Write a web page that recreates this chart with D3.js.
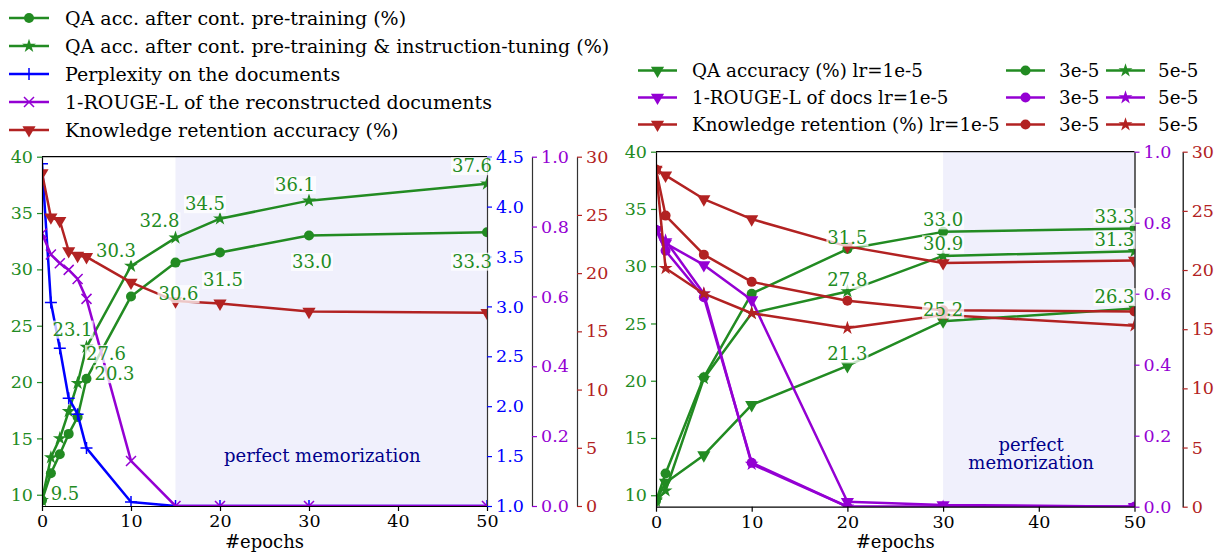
<!DOCTYPE html>
<html><head><meta charset="utf-8">
<script src="https://cdn.jsdelivr.net/npm/d3@7"></script>
<style>body{margin:0;background:#fff} svg{display:block} text{font-family:"DejaVu Serif",serif}</style>
</head><body><svg id="c" width="1217" height="553"></svg>
<script>
// ---------- data (left panel) ----------
const epochsL = [0,1,2,3,4,5,10,15,20,30,50];
const qaPre   = [9.5,11.9,13.6,15.4,16.9,20.3,27.6,30.6,31.5,33.0,33.3];
const qaInst  = [9.5,13.3,15.0,17.4,19.9,23.1,30.3,32.8,34.5,36.1,37.6];
const pplL    = [4.43,3.04,2.58,2.08,1.92,1.58,1.04,1.0,1.0,1.0,1.0];
const rougeL  = [0.78,0.72,0.695,0.676,0.65,0.593,0.129,0.0,0.0,0.0,0.0];
const retainL = [28.6,24.8,24.5,21.9,21.5,21.4,19.2,17.6,17.4,16.7,16.6];
// ---------- data (right panel) ----------
const epochsR = [0,1,5,10,20,30,50];
const qa1 = [9.5,11.1,13.5,17.9,21.3,25.2,26.3];
const qa3 = [9.5,11.9,20.3,27.6,31.5,33.0,33.3];
const qa5 = [9.5,10.4,20.2,25.9,27.8,30.9,31.3];
const rouge1 = [0.78,0.742,0.681,0.582,0.014,0.005,0.0];
const rouge3 = [0.78,0.721,0.59,0.124,0.0,0.0,0.0];
const rouge5 = [0.78,0.75,0.6,0.12,0.0,0.0,0.0];
const ret1 = [28.5,28.0,26.0,24.3,22.0,20.6,20.8];
const ret3 = [28.5,24.6,21.3,19.0,17.4,16.6,16.5];
const ret5 = [28.5,20.15,18.0,16.35,15.1,16.2,15.3];
// ---------- tick labels ----------
const xTicks = [0,10,20,30,40,50];
const qaTicks = [10,15,20,25,30,35,40];
const pplTicks = [1.0,1.5,2.0,2.5,3.0,3.5,4.0,4.5];
const rougeTicks = [0,0.2,0.4,0.6,0.8,1.0];
const retTicks = [0,5,10,15,20,25,30];
const legendLeft = ["QA acc. after cont. pre-training (%)","QA acc. after cont. pre-training & instruction-tuning (%)","Perplexity on the documents","1-ROUGE-L of the reconstructed documents","Knowledge retention accuracy (%)"];
const legendRight1 = ["QA accuracy (%) lr=1e-5","1-ROUGE-L of docs lr=1e-5","Knowledge retention (%) lr=1e-5"];
const legendRight2 = ["3e-5","3e-5","3e-5"];
const legendRight3 = ["5e-5","5e-5","5e-5"];

// ---------- label layout (pixel offsets) ----------
const labelsLeft = [
  {s:'pre',i:0,dx:23,dy:-7},{s:'inst',i:5,dx:-14,dy:-18},{s:'pre',i:5,dx:28,dy:-5},
  {s:'pre',i:6,dx:-25,dy:57},{s:'inst',i:6,dx:-15,dy:-15},{s:'inst',i:7,dx:-16,dy:-17},
  {s:'pre',i:7,dx:3,dy:31},{s:'inst',i:8,dx:-15,dy:-15},{s:'pre',i:8,dx:3,dy:27},
  {s:'inst',i:9,dx:-14,dy:-16},{s:'pre',i:9,dx:3,dy:26},{s:'inst',i:10,dx:-15,dy:-18},
  {s:'pre',i:10,dx:-15,dy:29}];
const labelsRight = [];
['a','b','c'].forEach(s=>{[4,5,6].forEach(i=>labelsRight.push({s,i,dx:i===6?-20:0,dy:-12}));});

const GREEN='#228b22', BLUE='#0000ff', PURPLE='#9400d3', RED='#b22222', NAVY='#00008b', SHADE='#f0f0fc';
const svg = d3.select('#c');

function marker(g, kind, x, y, color, scale=1){
  if(kind==='o') g.append('circle').attr('cx',x).attr('cy',y).attr('r',5*scale).attr('fill',color);
  else if(kind==='*') g.append('path').attr('d',d3.symbol(d3.symbolStar, 60*scale*scale)()).attr('transform',`translate(${x},${y})`).attr('fill',color);
  else if(kind==='v') g.append('path').attr('d',d3.symbol(d3.symbolTriangle, 75*scale*scale)()).attr('transform',`translate(${x},${y}) rotate(180)`).attr('fill',color);
  else if(kind==='+') g.append('path').attr('d',`M${x-6},${y}H${x+6}M${x},${y-6}V${y+6}`).attr('stroke',color).attr('stroke-width',1.5);
  else if(kind==='x') g.append('path').attr('d',`M${x-5},${y-5}L${x+5},${y+5}M${x-5},${y+5}L${x+5},${y-5}`).attr('stroke',color).attr('stroke-width',1.5);
}

function series(g, xs, ys, xS, yS, color, kind){
  const line = d3.line().x((d,i)=>xS(xs[i])).y(d=>yS(d));
  g.append('path').attr('d',line(ys)).attr('fill','none').attr('stroke',color).attr('stroke-width',2.5).attr('stroke-linejoin','round');
  ys.forEach((v,i)=>marker(g,kind,xS(xs[i]),yS(v),color));
}

function styleAxis(ax, color, spine){
  ax.selectAll('text').attr('fill',color).style('font-size','17.5px').style('font-family','"DejaVu Serif",serif');
  ax.selectAll('.tick line').attr('stroke',color).attr('stroke-width',1.2);
  ax.select('.domain').attr('stroke',spine).attr('stroke-width',1.2);
}

function labelBox(g, x, y, txt, anchor){
  const t = g.append('text').attr('x',x).attr('y',y).attr('text-anchor',anchor||'middle').attr('dominant-baseline','central')
    .attr('fill',GREEN).style('font-size','18px').text(txt);
  const b = t.node().getBBox();
  g.insert('rect','text:last-child').attr('x',b.x-1).attr('y',b.y+2).attr('width',b.width+2).attr('height',b.height-3)
    .attr('fill','#fff').attr('opacity',0.75);
  t.raise();
}

// ================= LEFT PANEL =================
(function(){
  const X0=42, X1=487, Y0=156.7, Y1=506;
  const x = d3.scaleLinear([0,50],[X0,X1]);
  const yQ = d3.scaleLinear([9,40],[Y1,Y0]);
  const yB = d3.scaleLinear([1,4.5],[Y1,Y0]);
  const yP = d3.scaleLinear([0,1],[Y1,Y0]);
  const yR = d3.scaleLinear([0,30],[Y1,Y0]);
  const g = svg.append('g');
  g.append('clipPath').attr('id','clipL').append('rect').attr('x',X0).attr('y',Y0).attr('width',X1-X0).attr('height',Y1-Y0);
  g.append('rect').attr('x',x(15)).attr('y',Y0).attr('width',x(50)-x(15)).attr('height',Y1-Y0).attr('fill',SHADE);
  g.append('text').attr('x',x(31.5)).attr('y',455).attr('text-anchor','middle').attr('dominant-baseline','central')
    .attr('fill',NAVY).style('font-size','18px').text('perfect memorization');
  const p = g.append('g').attr('clip-path','url(#clipL)');
  series(p, epochsL, qaPre, x, yQ, GREEN, 'o');
  series(p, epochsL, qaInst, x, yQ, GREEN, '*');
  series(p, epochsL, pplL, x, yB, BLUE, '+');
  series(p, epochsL, rougeL, x, yP, PURPLE, 'x');
  series(p, epochsL, retainL, x, yR, RED, 'v');
  g.append('line').attr('x1',X0).attr('x2',X1).attr('y1',Y0).attr('y2',Y0).attr('stroke','#000').attr('stroke-width',1.2);
  const ax = g.append('g').attr('transform',`translate(0,${Y1})`).call(d3.axisBottom(x).tickValues(xTicks).tickSize(5).tickPadding(4).tickSizeOuter(0));
  styleAxis(ax,'#000','#000');
  const aq = g.append('g').attr('transform',`translate(${X0},0)`).call(d3.axisLeft(yQ).tickValues(qaTicks).tickSize(5).tickPadding(4).tickSizeOuter(0));
  styleAxis(aq,GREEN,'#000');
  const ab = g.append('g').attr('transform',`translate(${X1},0)`).call(d3.axisRight(yB).tickValues(pplTicks).tickFormat(d3.format('.1f')).tickSize(5).tickPadding(4).tickSizeOuter(0));
  styleAxis(ab,BLUE,'#333');
  const ap = g.append('g').attr('transform',`translate(532,0)`).call(d3.axisRight(yP).tickValues(rougeTicks).tickFormat(d3.format('.1f')).tickSize(5).tickPadding(4).tickSizeOuter(0));
  styleAxis(ap,PURPLE,'#333');
  const ar = g.append('g').attr('transform',`translate(577,0)`).call(d3.axisRight(yR).tickValues(retTicks).tickSize(5).tickPadding(4).tickSizeOuter(0));
  styleAxis(ar,RED,'#333');
  g.append('text').attr('x',(X0+X1)/2).attr('y',548).attr('text-anchor','middle').attr('fill','#000').style('font-size','18px').text('#epochs');
  const lab = g.append('g');
  const src = {pre:qaPre, inst:qaInst};
  labelsLeft.forEach(l=>{
    const v = src[l.s][l.i];
    labelBox(lab, x(epochsL[l.i])+l.dx, yQ(v)+l.dy, v.toFixed(1));
  });
  const kinds=['o','*','+','x','v'], cols=[GREEN,GREEN,BLUE,PURPLE,RED];
  legendLeft.forEach((t,i)=>{
    const y = 18 + i*28;
    g.append('line').attr('x1',9).attr('x2',49).attr('y1',y).attr('y2',y).attr('stroke',cols[i]).attr('stroke-width',2.5);
    marker(g,kinds[i],29,y,cols[i]);
    g.append('text').attr('x',65).attr('y',y).attr('dominant-baseline','central').attr('fill','#000').style('font-size','19px').text(t);
  });
})();

// ================= RIGHT PANEL =================
(function(){
  const X0=656, X1=1134.5, Y0=151.7, Y1=506.7;
  const x = d3.scaleLinear([0,50],[X0,X1]);
  const yQ = d3.scaleLinear([9,40],[Y1,Y0]);
  const yP = d3.scaleLinear([0,1],[Y1,Y0]);
  const yR = d3.scaleLinear([0,30],[Y1,Y0]);
  const g = svg.append('g');
  g.append('clipPath').attr('id','clipR').append('rect').attr('x',X0).attr('y',Y0).attr('width',X1-X0).attr('height',Y1-Y0);
  g.append('rect').attr('x',x(30)).attr('y',Y0).attr('width',x(50)-x(30)).attr('height',Y1-Y0).attr('fill',SHADE);
  g.append('text').attr('x',x(39.2)).attr('y',444).attr('text-anchor','middle').attr('dominant-baseline','central').attr('fill',NAVY).style('font-size','18px').text('perfect');
  g.append('text').attr('x',x(39.2)).attr('y',462).attr('text-anchor','middle').attr('dominant-baseline','central').attr('fill',NAVY).style('font-size','18px').text('memorization');
  const p = g.append('g').attr('clip-path','url(#clipR)');
  series(p, epochsR, qa1, x, yQ, GREEN, 'v');
  series(p, epochsR, qa3, x, yQ, GREEN, 'o');
  series(p, epochsR, qa5, x, yQ, GREEN, '*');
  series(p, epochsR, rouge1, x, yP, PURPLE, 'v');
  series(p, epochsR, rouge3, x, yP, PURPLE, 'o');
  series(p, epochsR, rouge5, x, yP, PURPLE, '*');
  series(p, epochsR, ret1, x, yR, RED, 'v');
  series(p, epochsR, ret3, x, yR, RED, 'o');
  series(p, epochsR, ret5, x, yR, RED, '*');
  g.append('line').attr('x1',X0).attr('x2',X1).attr('y1',Y0).attr('y2',Y0).attr('stroke','#000').attr('stroke-width',1.2);
  const ax = g.append('g').attr('transform',`translate(0,${Y1})`).call(d3.axisBottom(x).tickValues(xTicks).tickSize(5).tickPadding(4).tickSizeOuter(0));
  styleAxis(ax,'#000','#000');
  const aq = g.append('g').attr('transform',`translate(${X0},0)`).call(d3.axisLeft(yQ).tickValues(qaTicks).tickSize(5).tickPadding(4).tickSizeOuter(0));
  styleAxis(aq,GREEN,'#000');
  const ap = g.append('g').attr('transform',`translate(${X1},0)`).call(d3.axisRight(yP).tickValues(rougeTicks).tickFormat(d3.format('.1f')).tickSize(5).tickPadding(4).tickSizeOuter(0));
  styleAxis(ap,PURPLE,'#000');
  const ar = g.append('g').attr('transform',`translate(1182.7,0)`).call(d3.axisRight(yR).tickValues(retTicks).tickSize(5).tickPadding(4).tickSizeOuter(0));
  styleAxis(ar,RED,'#000');
  g.append('text').attr('x',(X0+X1)/2).attr('y',548).attr('text-anchor','middle').attr('fill','#000').style('font-size','18px').text('#epochs');
  const lab = g.append('g');
  const src = {a:qa1, b:qa3, c:qa5};
  labelsRight.forEach(l=>{
    const v = src[l.s][l.i];
    labelBox(lab, x(epochsR[l.i])+l.dx, yQ(v)+l.dy, v.toFixed(1));
  });
  const cols=[GREEN,PURPLE,RED];
  const colSpec = [{x1:638,x2:677,tx:692,k:'v',txt:legendRight1},{x1:1006,x2:1045,tx:1059,k:'o',txt:legendRight2},{x1:1106,x2:1145,tx:1158,k:'*',txt:legendRight3}];
  colSpec.forEach(c=>{
    c.txt.forEach((t,i)=>{
      const y = 70.5 + i*27;
      g.append('line').attr('x1',c.x1).attr('x2',c.x2).attr('y1',y).attr('y2',y).attr('stroke',cols[i]).attr('stroke-width',2.5);
      marker(g,c.k,(c.x1+c.x2)/2,y,cols[i]);
      g.append('text').attr('x',c.tx).attr('y',y).attr('dominant-baseline','central').attr('fill','#000').style('font-size','18.3px').text(t);
    });
  });
})();
</script></body></html>
